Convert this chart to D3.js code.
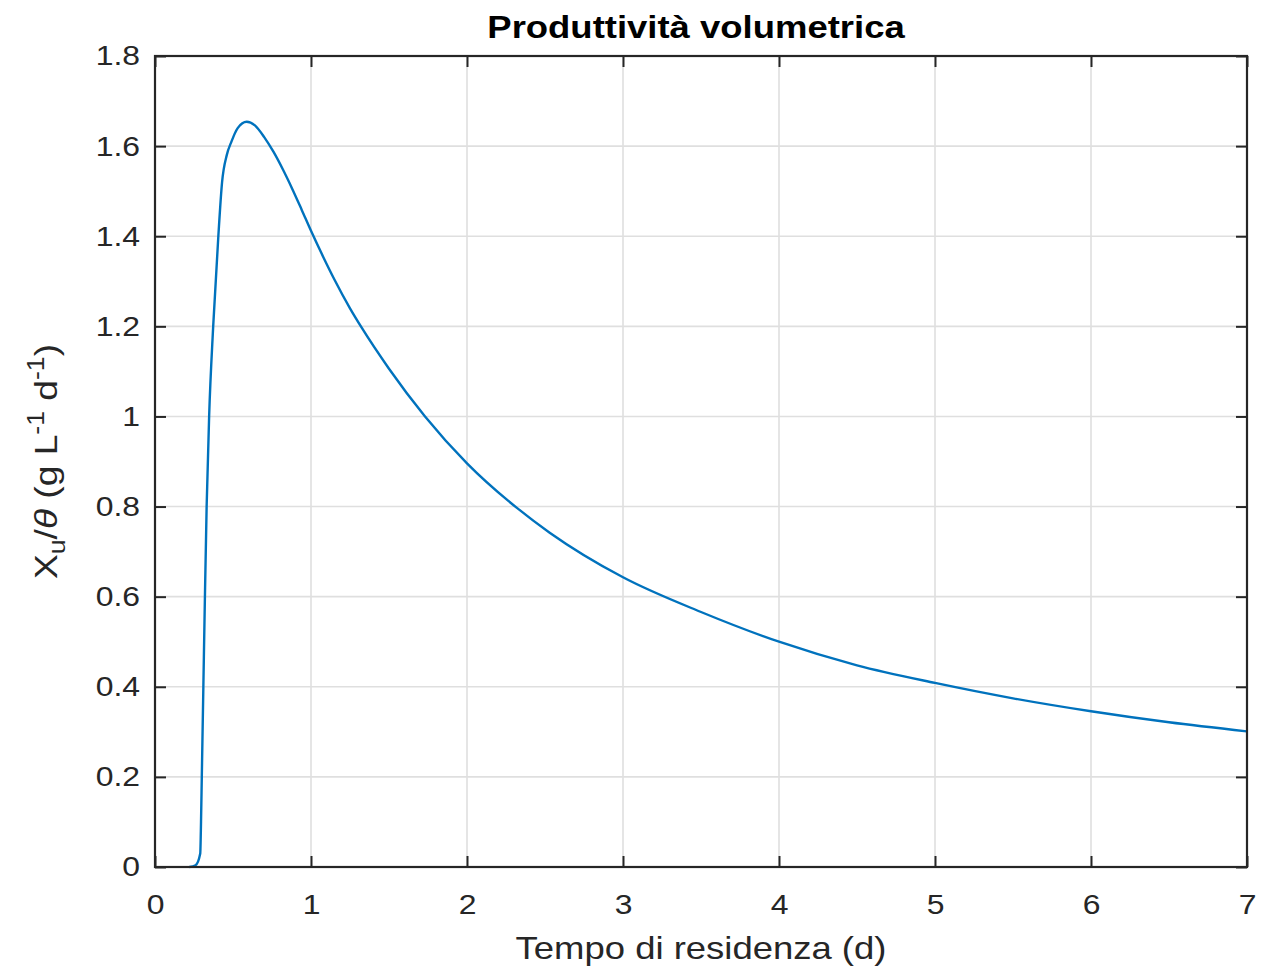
<!DOCTYPE html>
<html>
<head>
<meta charset="utf-8">
<script src="https://cdn.jsdelivr.net/npm/d3@7"></script>
<style>
  html, body { margin: 0; padding: 0; background: #ffffff; }
  svg { display: block; font-family: "Liberation Sans", Arial, Helvetica, sans-serif; }
</style>
</head>
<body>
<svg id="chart" width="1278" height="969"></svg>
<script>
// Residence time (d)
const residenceTime = [0.22, 0.26, 0.29, 0.295, 0.30, 0.31, 0.32, 0.331, 0.347, 0.373, 0.406, 0.43, 0.46, 0.49, 0.53, 0.588, 0.64, 0.70, 0.76, 0.82, 0.88, 0.94, 1.0, 1.08, 1.15, 1.25, 1.325, 1.5, 1.731, 2.0, 2.32, 2.53, 3.0, 3.5, 4.0, 4.5, 5.0, 5.5, 6.0, 6.5, 7.0];
// Volumetric productivity Xu/theta (g L^-1 d^-1)
const productivity = [0, 0.004, 0.03, 0.1, 0.2, 0.4, 0.6, 0.8, 1.0, 1.2, 1.4, 1.52, 1.58, 1.61, 1.64, 1.654, 1.646, 1.620, 1.587, 1.548, 1.505, 1.459, 1.412, 1.353, 1.304, 1.24, 1.197, 1.106, 1.0, 0.896, 0.797, 0.742, 0.643, 0.566, 0.5, 0.4476, 0.4086, 0.3744, 0.3457, 0.3212, 0.301];

const xTickValues = [0, 1, 2, 3, 4, 5, 6, 7];
const yTickValues = [0, 0.2, 0.4, 0.6, 0.8, 1.0, 1.2, 1.4, 1.6, 1.8];
const yTickLabels = ["0", "0.2", "0.4", "0.6", "0.8", "1", "1.2", "1.4", "1.6", "1.8"];

const titleText = "Produttività volumetrica";
const xLabelText = "Tempo di residenza (d)";

const svg = d3.select("#chart");
const plot = { left: 155, right: 1247, top: 56, bottom: 867 };

const x = d3.scaleLinear().domain([0, 7]).range([plot.left, plot.right]);
const y = d3.scaleLinear().domain([0, 1.8]).range([plot.bottom, plot.top]);

const axisColor = "#262626";
const gridColor = "#dfdfdf";
const tickFont = 28;
const labelFont = 32;
const stretch = 1.14; // horizontal glyph stretch

// grid
const grid = svg.append("g");
grid.selectAll("line.gx").data(xTickValues).enter().append("line")
  .attr("x1", d => x(d)).attr("x2", d => x(d))
  .attr("y1", plot.top).attr("y2", plot.bottom)
  .attr("stroke", gridColor).attr("stroke-width", 1.6);
grid.selectAll("line.gy").data(yTickValues).enter().append("line")
  .attr("x1", plot.left).attr("x2", plot.right)
  .attr("y1", d => y(d)).attr("y2", d => y(d))
  .attr("stroke", gridColor).attr("stroke-width", 1.6);

// curve
const line = d3.line()
  .x((d, i) => x(residenceTime[i]))
  .y(d => y(d))
  .curve(d3.curveMonotoneX);
svg.append("path")
  .datum(productivity)
  .attr("d", line)
  .attr("fill", "none")
  .attr("stroke", "#0072BD")
  .attr("stroke-width", 2.4)
  .attr("stroke-linejoin", "round");

// axes with inward ticks on all four sides
const tickLen = 11;
const bottomAxis = d3.axisBottom(x).tickValues(xTickValues).tickSizeInner(-tickLen).tickSizeOuter(0).tickPadding(tickLen + 16).tickFormat(d3.format("d"));
const topAxis = d3.axisTop(x).tickValues(xTickValues).tickSizeInner(-tickLen).tickSizeOuter(0).tickFormat("");
const leftAxis = d3.axisLeft(y).tickValues(yTickValues).tickSizeInner(-tickLen).tickSizeOuter(0).tickPadding(tickLen + 4).tickFormat((d, i) => yTickLabels[i]);
const rightAxis = d3.axisRight(y).tickValues(yTickValues).tickSizeInner(-tickLen).tickSizeOuter(0).tickFormat("");

function styleAxis(g) {
  g.select(".domain").remove();
  g.selectAll(".tick line").attr("stroke", axisColor).attr("stroke-width", 2);
  g.selectAll(".tick text")
    .attr("fill", axisColor)
    .style("font-size", tickFont + "px")
    .style("font-family", "'Liberation Sans', Arial, sans-serif")
    .each(function () {
      const t = d3.select(this);
      const tx = +t.attr("x") || 0;
      const ty = +t.attr("y") || 0;
      t.attr("x", 0).attr("y", 0)
        .attr("transform", `translate(${tx},${ty}) scale(${stretch},1)`);
    });
}

svg.append("g").attr("transform", `translate(0,${plot.bottom})`).call(bottomAxis).call(styleAxis);
svg.append("g").attr("transform", `translate(0,${plot.top})`).call(topAxis).call(styleAxis);
svg.append("g").attr("transform", `translate(${plot.left},0)`).call(leftAxis).call(styleAxis);
svg.append("g").attr("transform", `translate(${plot.right},0)`).call(rightAxis).call(styleAxis);

// box
svg.append("rect")
  .attr("x", plot.left).attr("y", plot.top)
  .attr("width", plot.right - plot.left).attr("height", plot.bottom - plot.top)
  .attr("fill", "none").attr("stroke", axisColor).attr("stroke-width", 2.2);

// title
svg.append("text")
  .attr("transform", `translate(${(plot.left + plot.right) / 2 - 5},38) scale(${stretch},1)`)
  .attr("text-anchor", "middle")
  .attr("fill", "#000")
  .style("font-size", labelFont + "px")
  .style("font-weight", "bold")
  .text(titleText);

// x label
svg.append("text")
  .attr("transform", `translate(${(plot.left + plot.right) / 2},959) scale(${stretch},1)`)
  .attr("text-anchor", "middle")
  .attr("fill", axisColor)
  .style("font-size", labelFont + "px")
  .text(xLabelText);

// y label with sub/superscripts
const yl = svg.append("text")
  .attr("transform", `translate(57,${(plot.top + plot.bottom) / 2}) rotate(-90) scale(${stretch + 0.02},1)`)
  .attr("text-anchor", "middle")
  .attr("fill", axisColor)
  .style("font-size", labelFont + "px");
yl.append("tspan").text("X");
yl.append("tspan").attr("dy", 8).style("font-size", "23px").text("u");
yl.append("tspan").attr("dy", -8).text("/");
yl.append("tspan").style("font-style", "italic").text("θ");
yl.append("tspan").text(" (g L");
yl.append("tspan").attr("dy", -13).style("font-size", "23px").text("-1");
yl.append("tspan").attr("dy", 13).text(" d");
yl.append("tspan").attr("dy", -13).style("font-size", "23px").text("-1");
yl.append("tspan").attr("dy", 13).text(")");
</script>
</body>
</html>
